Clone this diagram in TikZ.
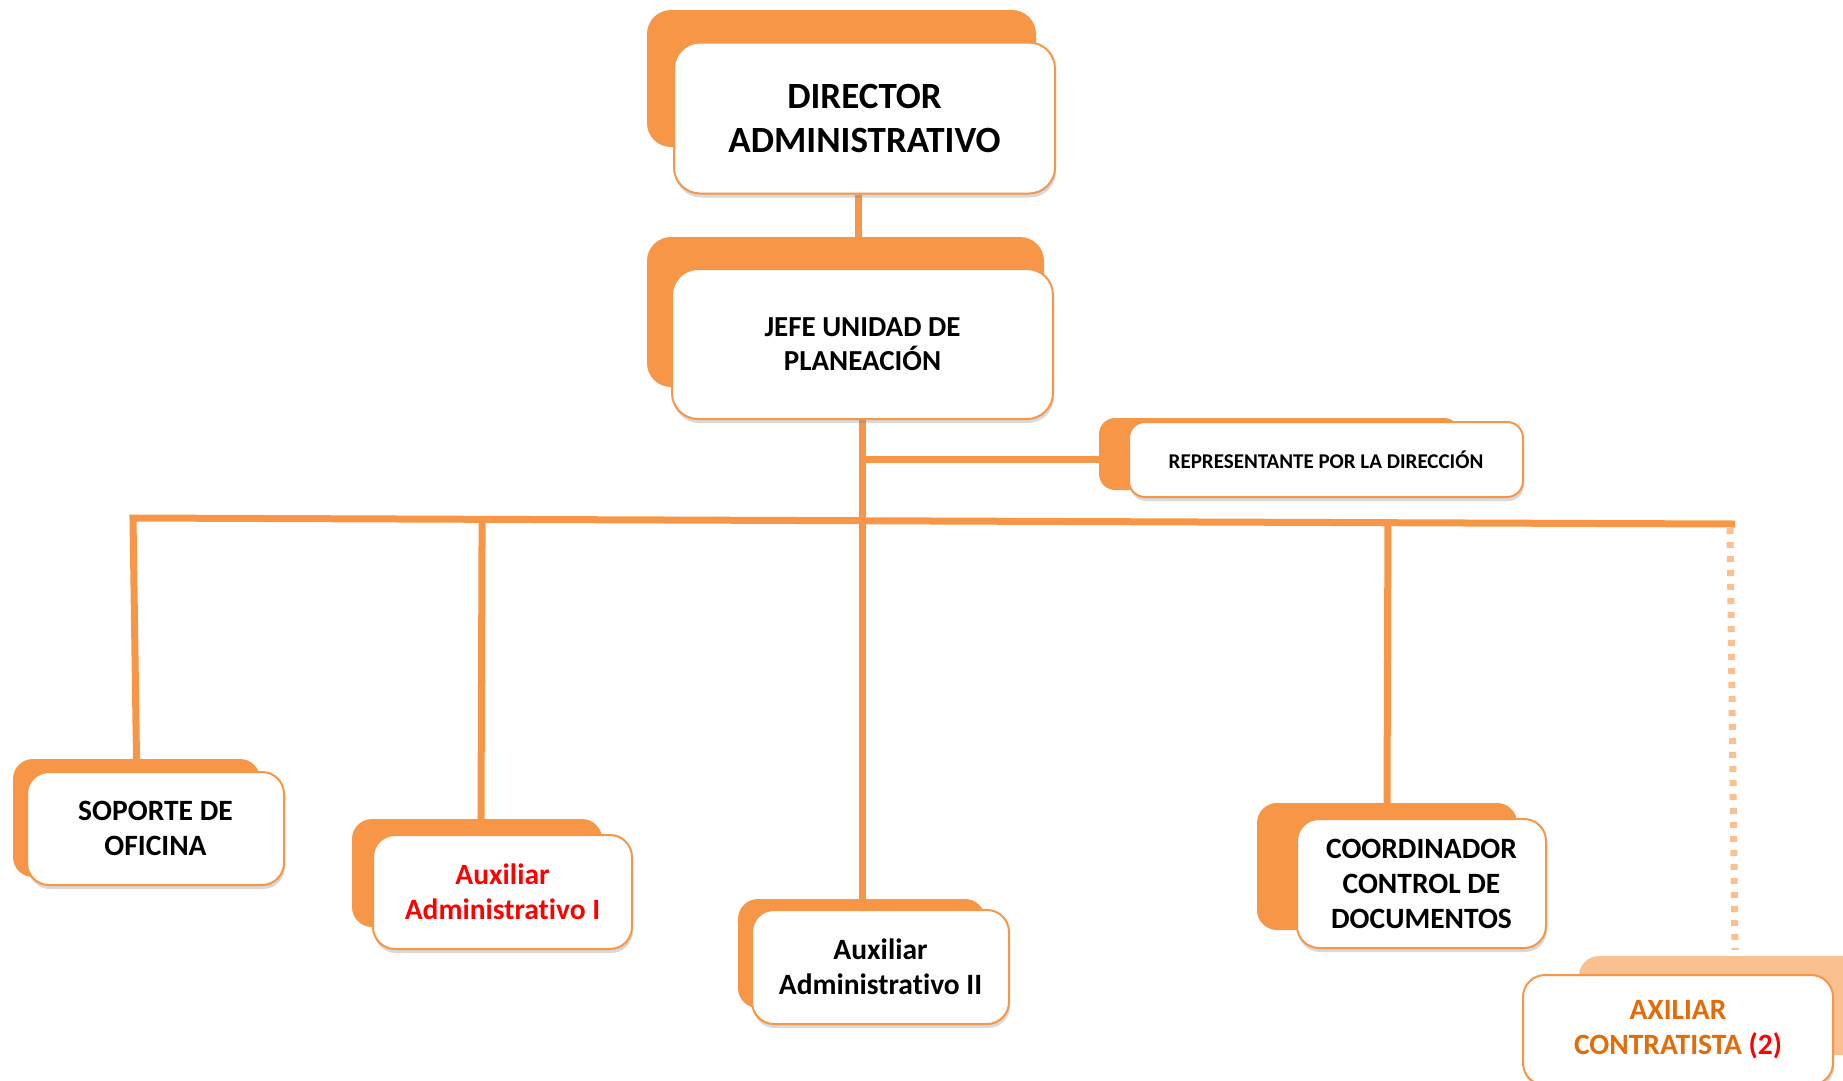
\documentclass[tikz,border=0pt]{standalone}
\usepackage{fontspec}
\setmainfont{Carlito}[Ligatures={NoCommon}]
\usetikzlibrary{calc}
\usetikzlibrary{positioning}
\usetikzlibrary{shadows,backgrounds}

\definecolor{naranja}{HTML}{F79646}
\definecolor{naranjaclaro}{HTML}{FAC090}
\definecolor{naranjaosc}{HTML}{E36C09}
\definecolor{rojo}{HTML}{FF0000}

\tikzset{
  caja/.style={draw=naranja, line width=2, fill=white, rounded corners=22,
    align=center, inner sep=0,
    drop shadow={shadow xshift=1pt, shadow yshift=-4pt, opacity=0.3}},
  fondo/.style={fill=naranja, rounded corners=24, inner sep=0},
  texto/.style={font=\fontsize{29.5}{35}\selectfont\bfseries},
  linea/.style={naranja, line width=7},
  punteado/.style={naranjaclaro, line width=7, dash pattern=on 6 off 8}
}

\begin{document}
\begin{tikzpicture}[x=1pt, y=-1pt]

\useasboundingbox (0,0) rectangle (1843,1080);

% fondos naranjas
\node[fondo, minimum width=389, minimum height=137] (dirF) at (841.5,78.5) {};
\node[fondo, minimum width=397, minimum height=150] (jefeF) at (845.5,312) {};
\node[fondo, minimum width=361, minimum height=72, rounded corners=16] (repF) at (1279.5,454) {};
\node[fondo, minimum width=247, minimum height=118, rounded corners=20] (sopF) at (136.5,818) {};
\node[fondo, minimum width=250, minimum height=108, rounded corners=20] (aux1F) at (477,873) {};
\node[fondo, minimum width=247, minimum height=109, rounded corners=20] (aux2F) at (861.5,953.5) {};
\node[fondo, minimum width=260, minimum height=127, rounded corners=20] (coordF) at (1387,866.5) {};
\node[fondo, fill=naranjaclaro, minimum width=291, minimum height=99, rounded corners=20] (axilF) at (1724.5,1005.5) {};

% cajas blancas
\node[caja, minimum width=381, minimum height=151, rounded corners=26,
  font=\fontsize{37}{44}\selectfont\bfseries] (dir) at (864.5,118) {DIRECTOR\\ADMINISTRATIVO};
\node[caja, texto, minimum width=381, minimum height=150, rounded corners=26,
  font=\fontsize{29}{34}\selectfont\bfseries] (jefe) at (862.5,344) {JEFE UNIDAD DE\\PLANEACI\'ON};
\node[caja, minimum width=394, minimum height=75, rounded corners=16,
  font=\fontsize{21}{24}\selectfont\bfseries] (rep) at (1326,459.5) {REPRESENTANTE POR LA DIRECCI\'ON};
\node[caja, texto, minimum width=257, minimum height=113] (sop) at (155.5,828.5) {SOPORTE DE\\OFICINA};
\node[caja, texto, text=rojo, minimum width=259, minimum height=114] (aux1) at (502.5,892) {Auxiliar\\Administrativo I};
\node[caja, texto, minimum width=257, minimum height=114] (aux2) at (880.5,967) {Auxiliar\\Administrativo II};
\node[caja, texto, minimum width=249, minimum height=129] (coord) at (1421.5,883.5) {COORDINADOR\\CONTROL DE\\DOCUMENTOS};
\node[caja, texto, text=naranjaosc, minimum width=310, minimum height=110] (axil) at (1678,1030) {AXILIAR\\CONTRATISTA \textcolor{rojo}{(2)}};

\coordinate (busI) at (133,518);
\coordinate (busD) at (1735,524);

\begin{scope}[on background layer]
\draw[linea] ([xshift=-6.5]dir.south) -- ([xshift=-6.5]dir.south |- jefeF.north);
\draw[linea] (jefe.south) -- (jefe.south |- aux2F.north);
\draw[linea] (rep.west -| jefe.south) -- (rep.west -| repF.west);
\draw[linea] (sopF.north) -- (busI) -- (busD);
\draw[linea] ($(busI)!([xshift=4]aux1F.north)!(busD)$) -- ([xshift=4]aux1F.north);
\draw[linea] ($(busI)!(coordF.north)!(busD)$) -- (coordF.north);
\draw[punteado] ([xshift=-5,yshift=-4]busD) -- ([yshift=6]busD |- axilF.north);
\end{scope}

\end{tikzpicture}
\end{document}
